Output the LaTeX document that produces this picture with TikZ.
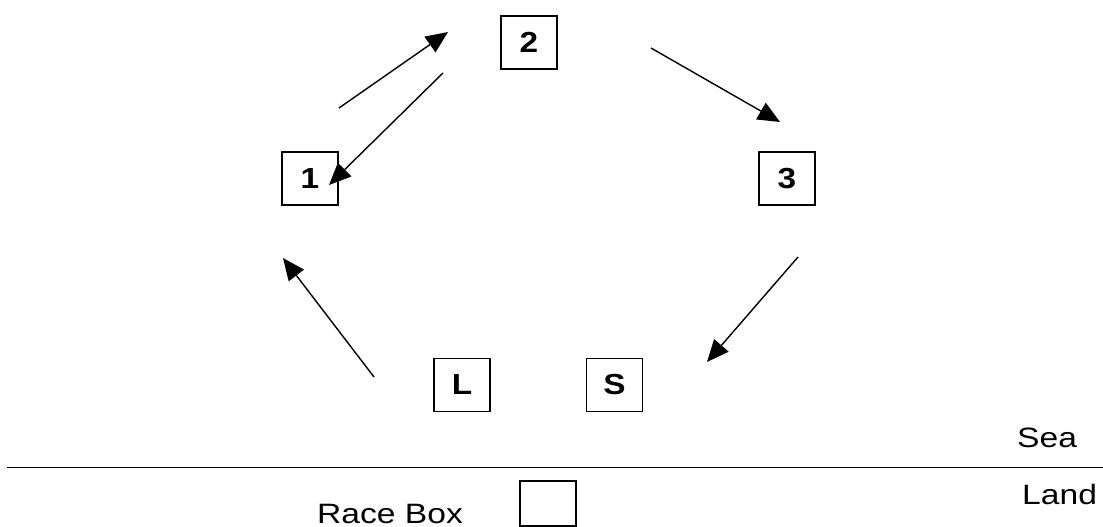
\documentclass[tikz,border=0pt]{standalone}
\usepackage{fontspec}
\setmainfont{Liberation Sans}
\usetikzlibrary{arrows.meta}
\tikzset{
  mark box/.style={draw, line width=1.4pt, minimum width=56pt, minimum height=53pt, inner sep=0pt,
    font=\fontsize{29pt}{29pt}\selectfont\bfseries},
  leg/.style={line width=1.4pt, -{Triangle[length=22pt,width=19pt]}},
  lbl/.style={inner sep=0pt, anchor=base west, font=\fontsize{28pt}{28pt}\selectfont}
}
\begin{document}
\begin{tikzpicture}[x=1pt,y=-1pt]
\useasboundingbox (0,0) rectangle (1103,527);
\node[mark box] (b2) at (529,42.5) {\scalebox{1.15}[1]{2}};
\node[mark box] (b1) at (310,178.5) {\scalebox{1.15}[1]{1}};
\node[mark box] (b3) at (787,178.5) {\scalebox{1.15}[1]{3}};
\node[mark box] (bL) at (462,385) {\scalebox{1.15}[1]{L}};
\node[mark box] (bS) at (614.5,385) {\scalebox{1.15}[1]{S}};
\node[draw, line width=1.4pt, minimum width=56pt, minimum height=45pt, inner sep=0pt] (rb) at (548,503.5) {};
\coordinate (a1s) at (339,108); \coordinate (a1e) at (448,32);
\coordinate (a2s) at (443,73);  \coordinate (a2e) at (329,185);
\coordinate (a3s) at (651,48);  \coordinate (a3e) at (780,122);
\coordinate (a4s) at (798,257); \coordinate (a4e) at (707,362);
\coordinate (a5s) at (374,377); \coordinate (a5e) at (283,258);
\draw[leg] (a1s) -- (a1e);
\draw[leg] (a2s) -- (a2e);
\draw[leg] (a3s) -- (a3e);
\draw[leg] (a4s) -- (a4e);
\draw[leg] (a5s) -- (a5e);
\coordinate (shl) at (7,467.5); \coordinate (shr) at (1103,467.5);
\draw[line width=1.6pt] (shl) -- (shr);
\node[lbl] (sea) at (1017,447) {\scalebox{1.2}[1]{Sea}};
\node[lbl] (land) at (1022,504) {\scalebox{1.2}[1]{Land}};
\node[lbl] (race) at (317,523) {\scalebox{1.2}[1]{Race Box}};
\end{tikzpicture}
\end{document}
